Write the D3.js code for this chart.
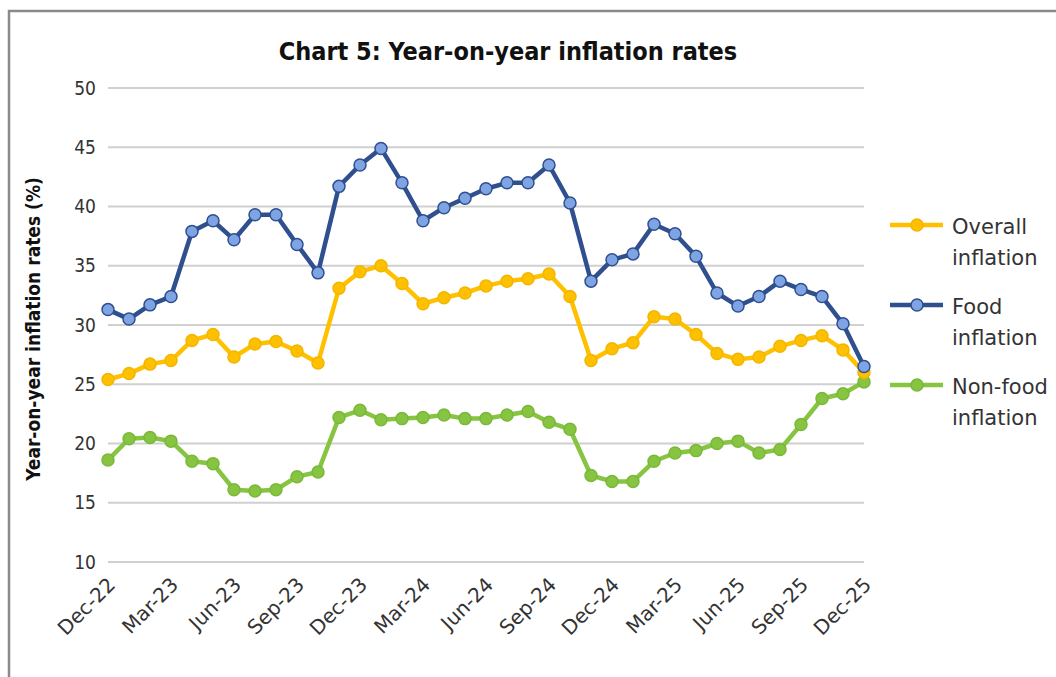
<!DOCTYPE html>
<html>
<head>
<meta charset="utf-8">
<script src="https://cdn.jsdelivr.net/npm/d3@7"></script>
<style>
  html, body { margin: 0; padding: 0; background: #fff; }
  svg text { font-family: "DejaVu Sans Condensed", "Roboto", sans-serif; }
</style>
</head>
<body>
<div id="chart"></div>
<script>
// monthly labels Dec-22 .. Dec-25
const months = ['Dec-22','Jan-23','Feb-23','Mar-23','Apr-23','May-23','Jun-23','Jul-23','Aug-23','Sep-23','Oct-23','Nov-23',
  'Dec-23','Jan-24','Feb-24','Mar-24','Apr-24','May-24','Jun-24','Jul-24','Aug-24','Sep-24','Oct-24','Nov-24',
  'Dec-24','Jan-25','Feb-25','Mar-25','Apr-25','May-25','Jun-25','Jul-25','Aug-25','Sep-25','Oct-25','Nov-25','Dec-25'];

const overall = [25.4, 25.9, 26.7, 27.0, 28.7, 29.2, 27.3, 28.4, 28.6, 27.8, 26.8, 33.1,
  34.5, 35.0, 33.5, 31.8, 32.3, 32.7, 33.3, 33.7, 33.9, 34.3, 32.4, 27.0,
  28.0, 28.5, 30.7, 30.5, 29.2, 27.6, 27.1, 27.3, 28.2, 28.7, 29.1, 27.9, 26.0];

const food = [31.3, 30.5, 31.7, 32.4, 37.9, 38.8, 37.2, 39.3, 39.3, 36.8, 34.4, 41.7,
  43.5, 44.9, 42.0, 38.8, 39.9, 40.7, 41.5, 42.0, 42.0, 43.5, 40.3, 33.7,
  35.5, 36.0, 38.5, 37.7, 35.8, 32.7, 31.6, 32.4, 33.7, 33.0, 32.4, 30.1, 26.5];

const nonFood = [18.6, 20.4, 20.5, 20.2, 18.5, 18.3, 16.1, 16.0, 16.1, 17.2, 17.6, 22.2,
  22.8, 22.0, 22.1, 22.2, 22.4, 22.1, 22.1, 22.4, 22.7, 21.8, 21.2, 17.3,
  16.8, 16.8, 18.5, 19.2, 19.4, 20.0, 20.2, 19.2, 19.5, 21.6, 23.8, 24.2, 25.2];

const yTicks = [10, 15, 20, 25, 30, 35, 40, 45, 50];
const xTickLabels = ['Dec-22','Mar-23','Jun-23','Sep-23','Dec-23','Mar-24','Jun-24','Sep-24','Dec-24','Mar-25','Jun-25','Sep-25','Dec-25'];

const series = [
  { name: ['Non-food', 'inflation'], values: nonFood, line: '#86c441', fill: '#86c441', stroke: '#7ab83a' },
  { name: ['Overall', 'inflation'], values: overall, line: '#ffc000', fill: '#ffc000', stroke: '#f2b600' },
  { name: ['Food', 'inflation'], values: food, line: '#2f4f8f', fill: '#7fa4e4', stroke: '#2f4f8f' }
];
const legendOrder = [1, 2, 0];

const W = 1056, H = 677;
const margin = { top: 88, right: 192, bottom: 115, left: 108 };
const width = W - margin.left - margin.right;
const height = H - margin.top - margin.bottom;

const svg = d3.select('#chart').append('svg')
  .attr('width', W)
  .attr('height', H);

// frame
svg.append('path')
  .attr('d', `M9,${H} L9,11 L${W},11`)
  .attr('fill', 'none')
  .attr('stroke', '#8a8a8a')
  .attr('stroke-width', 2.5);

svg.append('text')
  .attr('x', 508)
  .attr('y', 60)
  .attr('text-anchor', 'middle')
  .attr('font-size', 25)
  .attr('font-weight', 'bold')
  .attr('fill', '#111')
  .text('Chart 5: Year-on-year inflation rates');

const g = svg.append('g')
  .attr('transform', `translate(${margin.left},${margin.top})`);

const x = d3.scalePoint().domain(months).range([0, width]);
const y = d3.scaleLinear().domain([10, 50]).range([height, 0]);

// gridlines
g.append('g')
  .selectAll('line')
  .data(yTicks)
  .join('line')
  .attr('x1', 0)
  .attr('x2', width)
  .attr('y1', d => y(d))
  .attr('y2', d => y(d))
  .attr('stroke', '#d0d0d0')
  .attr('stroke-width', 2);

// y axis
const yAxis = g.append('g')
  .call(d3.axisLeft(y).tickValues(yTicks).tickSize(0).tickPadding(12));
yAxis.select('.domain').remove();
yAxis.selectAll('text')
  .attr('font-size', 19)
  .attr('fill', '#333')
  .style('font-family', '"DejaVu Sans Condensed", sans-serif');

// x axis
const xAxis = g.append('g')
  .attr('transform', `translate(0,${height})`)
  .call(d3.axisBottom(x).tickValues(xTickLabels).tickSize(0).tickPadding(0));
xAxis.select('.domain').remove();
xAxis.selectAll('text')
  .attr('font-size', 20)
  .attr('fill', '#333')
  .attr('text-anchor', 'end')
  .attr('dy', 0)
  .attr('transform', 'translate(8,24) rotate(-45)')
  .style('font-family', '"DejaVu Sans", sans-serif');

// y title
svg.append('text')
  .attr('transform', `translate(40,${margin.top + height / 2 + 4}) rotate(-90)`)
  .attr('text-anchor', 'middle')
  .attr('font-size', 19)
  .attr('font-weight', 'bold')
  .attr('fill', '#111')
  .text('Year-on-year inflation rates (%)');

const line = d3.line()
  .x((d, i) => x(months[i]))
  .y(d => y(d));

series.forEach(s => {
  const sg = g.append('g');
  sg.append('path')
    .datum(s.values)
    .attr('fill', 'none')
    .attr('stroke', s.line)
    .attr('stroke-width', 4.5)
    .attr('stroke-linejoin', 'round')
    .attr('d', line);
  sg.selectAll('circle')
    .data(s.values)
    .join('circle')
    .attr('cx', (d, i) => x(months[i]))
    .attr('cy', d => y(d))
    .attr('r', 6)
    .attr('fill', s.fill)
    .attr('stroke', s.stroke)
    .attr('stroke-width', 1.5);
});

// legend
const legend = svg.append('g').attr('transform', 'translate(890,225)');
legendOrder.forEach((k, i) => {
  const s = series[k];
  const lg = legend.append('g').attr('transform', `translate(0,${i * 80})`);
  lg.append('line')
    .attr('x1', 0).attr('x2', 53)
    .attr('y1', 0).attr('y2', 0)
    .attr('stroke', s.line)
    .attr('stroke-width', 4.5);
  lg.append('circle')
    .attr('cx', 27).attr('cy', 0).attr('r', 6)
    .attr('fill', s.fill)
    .attr('stroke', s.stroke)
    .attr('stroke-width', 1.5);
  lg.append('text')
    .attr('x', 62)
    .attr('y', 9)
    .attr('font-size', 21)
    .attr('fill', '#333')
    .style('font-family', '"DejaVu Sans", sans-serif')
    .selectAll('tspan')
    .data(s.name)
    .join('tspan')
    .attr('x', 62)
    .attr('dy', (d, j) => j === 0 ? 0 : 31)
    .text(d => d);
});
</script>
</body>
</html>
